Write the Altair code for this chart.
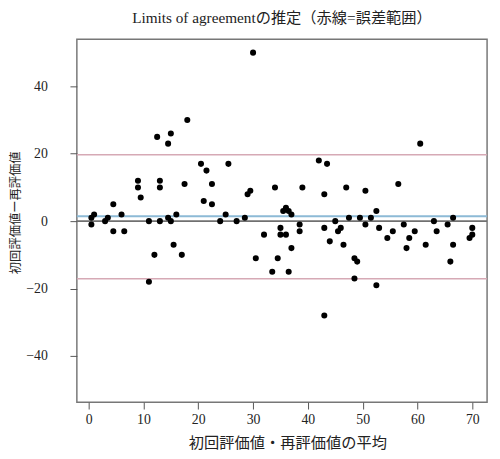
import altair as alt
import pandas as pd

# Bland-Altman data: mean of two ratings (x) and difference (y)
x_mean = [0.5, 0.5, 1, 3, 3.5, 4.5, 4.5, 6, 6.5, 9, 9, 9.5, 11, 11, 12, 12.5, 13, 13, 13,
          14.5, 14.5, 15, 15, 15.5, 16, 17, 17.5, 18, 20.5, 21, 21.5, 22.5, 22.5, 24, 25,
          25.5, 27, 28.5, 29, 29.5, 30, 30.5, 32, 33.5, 34, 34.5, 35, 35, 35.5, 36, 36,
          36.5, 36.5, 37, 37, 38.5, 38.5, 39, 42, 43, 43, 43, 43.5, 44, 45, 45.5, 46, 46.5,
          47, 47.5, 48.5, 48.5, 49, 49.5, 50.5, 50.5, 51.5, 52.5, 52.5, 53, 54.5, 55.5,
          56.5, 57.5, 58, 58.5, 59.5, 60.5, 61.5, 63, 63.5, 65.5, 66, 66.5, 66.5, 69.5, 70, 70]
y_diff = [1, -1, 2, 0, 1, 5, -3, 2, -3, 12, 10, 7, 0, -18, -10, 25, 12, 10, 0,
          23, 1, 26, 0, -7, 2, -10, 11, 30, 17, 6, 15, 11, 5, 0, 2,
          17, 0, 1, 8, 9, 50, -11, -4, -15, 10, -11, -2, -4, 3, 4, -4,
          3, -15, 2, -8, -1, -3, 10, 18, 8, -2, -28, 17, -6, 0, -3, -2, -7,
          10, 1, -11, -17, -12, 1, 9, -1, 1, 3, -19, -2, -5, -3,
          11, -1, -8, -5, -3, 23, -7, 0, -3, -1, -12, 1, -7, -5, -4, -2]

ref_names = ["zero", "mean", "upper", "lower"]
ref_values = [0, 1.46, 19.7, -17.1]
ref_colors = ["#707070", "#8DBAD6", "#D6A9B5", "#D6A9B5"]
ref_widths = [1.8, 2, 1.6, 1.6]

x_ticks = [0, 10, 20, 30, 40, 50, 60, 70]
y_ticks = [-40, -20, 0, 20, 40]

pts = pd.DataFrame({"x": x_mean, "y": y_diff})
refs = pd.DataFrame({"name": ref_names, "v": ref_values, "c": ref_colors, "w": ref_widths})

SERIF = "Liberation Serif, Noto Sans CJK JP"

xscale = alt.Scale(domain=[-2.15, 72.7], nice=False, zero=False)
yscale = alt.Scale(domain=[-53.7, 54.0], nice=False, zero=False)

rules = alt.Chart(refs).mark_rule().encode(
    y=alt.Y("v:Q", scale=yscale),
    color=alt.Color("c:N", scale=None),
    strokeWidth=alt.StrokeWidth("w:Q", scale=None),
)

points = alt.Chart(pts).mark_circle(size=38, opacity=1, color="black").encode(
    x=alt.X("x:Q", scale=xscale,
            axis=alt.Axis(values=x_ticks, title="初回評価値・再評価値の平均", grid=False,
                          domain=False, tickSize=7, tickColor="#555", labelPadding=4,
                          labelFont=SERIF, labelFontSize=14, labelColor="#222",
                          titleFont=SERIF, titleFontSize=15.5, titleFontWeight="normal",
                          titleColor="#222", titleX=214, titleY=41, titleBaseline="middle")),
    y=alt.Y("y:Q", scale=yscale,
            axis=alt.Axis(values=y_ticks, title="初回評価値ー再評価値", grid=False,
                          domain=False, tickSize=7, tickColor="#555", labelPadding=23,
                          labelFont=SERIF, labelFontSize=14, labelColor="#222",
                          titleFont=SERIF, titleFontSize=12.5, titleFontWeight="normal",
                          titleColor="#222", titleAngle=270, titleX=-62, titleY=176,
                          titleBaseline="middle", titleAlign="center")),
)

chart = alt.layer(rules, points).properties(
    width=417,
    height=369,
    autosize="none",
    padding={"left": 70, "top": 28, "right": 5, "bottom": 46},
    title=alt.Title("Limits of agreementの推定（赤線=誤差範囲）", font=SERIF, fontSize=15.5,
                    fontWeight="normal", color="#222", offset=13, anchor="middle"),
).configure_view(stroke="#777", strokeWidth=1.5)

chart.save("out.html", embed_options={"renderer": "svg", "actions": False})
